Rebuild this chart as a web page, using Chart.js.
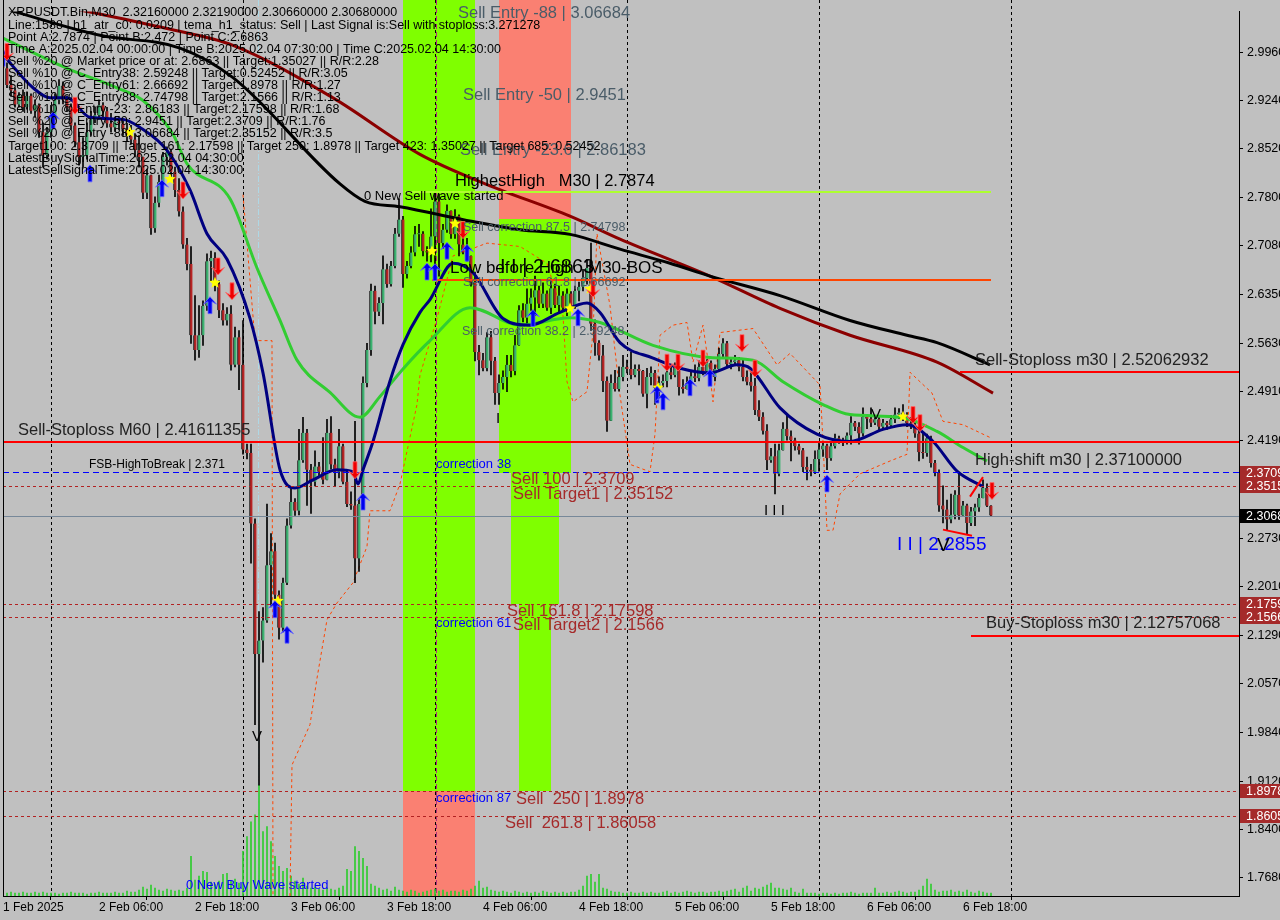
<!DOCTYPE html>
<html>
<head>
<meta charset="utf-8">
<title>XRPUSDT.Bin M30</title>
<script src="https://cdn.jsdelivr.net/npm/chart.js@4.4.1/dist/chart.umd.min.js"></script>
<style>
html,body{margin:0;padding:0;background:#c0c0c0;overflow:hidden;}
canvas{display:block;}
</style>
</head>
<body>
<canvas id="chart" width="1280" height="920"></canvas>
<script>
// ================= DATA =================
const firstOpen = 2.986;
const closes = [
2.972,2.947,2.939,2.918,2.931,2.914,2.931,2.909,2.917,2.877,2.843,2.877,
2.902,2.925,2.946,2.925,2.914,2.887,2.862,2.840,2.843,2.877,2.896,2.902,
2.917,2.908,2.890,2.884,2.893,2.890,2.881,2.872,2.866,2.850,2.840,2.787,
2.813,2.734,2.772,2.803,2.840,2.847,2.818,2.791,2.759,2.710,2.681,2.575,
2.553,2.575,2.619,2.685,2.690,2.651,2.612,2.597,2.607,2.531,2.572,2.531,
2.405,2.400,2.295,2.101,2.121,2.151,2.233,2.254,2.189,2.140,2.207,2.292,
2.327,2.314,2.389,2.430,2.375,2.357,2.380,2.372,2.360,2.430,2.383,2.372,
2.410,2.357,2.324,2.322,2.243,2.324,2.504,2.553,2.641,2.610,2.623,2.673,
2.651,2.678,2.726,2.747,2.666,2.678,2.698,2.725,2.726,2.700,2.698,2.722,
2.774,2.712,2.732,2.760,2.725,2.752,2.710,2.698,2.693,2.654,2.550,2.538,
2.526,2.572,2.537,2.489,2.504,2.513,2.531,2.522,2.560,2.612,2.601,2.622,
2.631,2.642,2.622,2.637,2.616,2.645,2.620,2.634,2.616,2.637,2.617,2.641,
2.647,2.660,2.675,2.592,2.564,2.545,2.507,2.448,2.504,2.495,2.513,2.528,
2.525,2.516,2.525,2.522,2.488,2.513,2.519,2.497,2.504,2.507,2.520,2.516,
2.528,2.498,2.495,2.504,2.514,2.511,2.528,2.522,2.534,2.513,2.525,2.547,
2.563,2.532,2.535,2.538,2.528,2.513,2.506,2.500,2.464,2.454,2.433,2.389,
2.395,2.369,2.404,2.436,2.425,2.419,2.410,2.404,2.379,2.375,2.372,2.391,
2.405,2.411,2.392,2.410,2.422,2.419,2.416,2.426,2.445,2.439,2.429,2.454,
2.451,2.445,2.450,2.439,2.445,2.441,2.450,2.457,2.460,2.453,2.444,2.442,
2.429,2.401,2.400,2.422,2.385,2.370,2.322,2.316,2.301,2.308,2.338,2.307,
2.322,2.296,2.313,2.319,2.333,2.348,2.3216,2.3068
];
const highs = [
3.002,2.980,2.961,2.943,2.936,2.940,2.937,2.934,2.925,2.919,2.891,2.884,
2.917,2.934,2.955,2.952,2.931,2.919,2.891,2.877,2.869,2.891,2.908,2.914,
2.925,2.921,2.914,2.905,2.899,2.899,2.896,2.890,2.887,2.875,2.872,2.833,
2.822,2.810,2.781,2.813,2.847,2.855,2.852,2.825,2.808,2.766,2.719,2.707,
2.634,2.619,2.626,2.696,2.700,2.698,2.656,2.622,2.616,2.619,2.587,2.582,
2.597,2.413,2.413,2.302,2.164,2.170,2.324,2.280,2.266,2.195,2.214,2.302,
2.348,2.332,2.435,2.453,2.435,2.383,2.403,2.386,2.423,2.450,2.454,2.391,
2.435,2.413,2.375,2.342,2.447,2.332,2.513,2.563,2.651,2.648,2.631,2.693,
2.681,2.685,2.734,2.778,2.752,2.685,2.707,2.737,2.740,2.729,2.707,2.763,
2.7874,2.785,2.740,2.769,2.760,2.762,2.754,2.725,2.719,2.693,2.669,2.560,
2.548,2.579,2.581,2.542,2.516,2.522,2.545,2.545,2.575,2.619,2.622,2.644,
2.644,2.663,2.648,2.653,2.641,2.659,2.651,2.648,2.640,2.644,2.640,2.648,
2.654,2.673,2.688,2.712,2.598,2.567,2.560,2.513,2.516,2.523,2.528,2.545,
2.538,2.550,2.531,2.531,2.523,2.526,2.528,2.523,2.513,2.516,2.535,2.531,
2.534,2.531,2.509,2.513,2.522,2.531,2.537,2.545,2.539,2.537,2.531,2.556,
2.570,2.566,2.542,2.545,2.542,2.538,2.522,2.519,2.511,2.478,2.460,2.442,
2.407,2.413,2.413,2.445,2.457,2.433,2.422,2.413,2.407,2.394,2.383,2.403,
2.417,2.417,2.413,2.416,2.428,2.425,2.422,2.430,2.454,2.447,2.445,2.467,
2.457,2.467,2.456,2.454,2.450,2.447,2.456,2.467,2.466,2.472,2.460,2.453,
2.448,2.435,2.430,2.428,2.425,2.389,2.375,2.351,2.330,2.339,2.344,2.369,
2.328,2.324,2.319,2.324,2.339,2.360,2.354,2.3219
];
const lows = [
2.969,2.943,2.931,2.914,2.914,2.908,2.911,2.905,2.899,2.869,2.825,2.837,
2.869,2.896,2.919,2.919,2.908,2.881,2.855,2.828,2.825,2.837,2.872,2.891,
2.896,2.899,2.884,2.877,2.878,2.881,2.872,2.863,2.859,2.840,2.825,2.778,
2.778,2.725,2.728,2.766,2.799,2.828,2.810,2.781,2.752,2.704,2.672,2.563,
2.538,2.542,2.560,2.612,2.656,2.641,2.601,2.590,2.590,2.523,2.528,2.494,
2.398,2.391,2.236,1.996,1.906,2.089,2.148,2.171,2.164,2.123,2.134,2.204,
2.288,2.307,2.308,2.386,2.322,2.310,2.351,2.366,2.354,2.372,2.376,2.351,
2.363,2.354,2.320,2.316,2.207,2.224,2.322,2.498,2.545,2.592,2.604,2.592,
2.646,2.648,2.675,2.722,2.646,2.660,2.675,2.693,2.707,2.693,2.685,2.684,
2.669,2.663,2.704,2.728,2.719,2.719,2.693,2.696,2.685,2.648,2.537,2.516,
2.522,2.522,2.516,2.472,2.472,2.495,2.491,2.513,2.516,2.560,2.595,2.590,
2.612,2.604,2.616,2.616,2.612,2.607,2.616,2.607,2.612,2.604,2.612,2.615,
2.626,2.641,2.651,2.582,2.545,2.538,2.491,2.432,2.472,2.492,2.492,2.507,
2.519,2.510,2.513,2.501,2.484,2.467,2.501,2.472,2.484,2.498,2.498,2.510,
2.513,2.486,2.489,2.495,2.486,2.506,2.507,2.516,2.519,2.501,2.507,2.522,
2.542,2.528,2.525,2.531,2.522,2.507,2.501,2.492,2.457,2.448,2.428,2.375,
2.386,2.339,2.366,2.404,2.419,2.388,2.404,2.398,2.372,2.360,2.366,2.369,
2.373,2.395,2.375,2.389,2.407,2.414,2.411,2.413,2.413,2.433,2.413,2.425,
2.436,2.439,2.442,2.433,2.436,2.435,2.438,2.445,2.451,2.448,2.439,2.436,
2.423,2.388,2.392,2.395,2.379,2.366,2.313,2.296,2.2855,2.296,2.302,2.301,
2.316,2.280,2.292,2.292,2.313,2.333,2.320,2.3066
];
// tick volume (millions), one per bar
const volumes = [
0.3,0.3,0.4,0.3,0.3,0.4,0.3,0.3,0.4,0.3,0.4,0.3,
0.3,0.3,0.2,0.3,0.3,0.4,0.3,0.3,0.3,0.2,0.3,0.3,
0.4,0.3,0.3,0.3,0.4,0.3,0.3,0.5,0.4,0.4,0.6,0.9,
0.7,1.1,0.8,0.6,0.5,0.7,0.6,0.5,0.6,0.5,0.8,4.0,
1.6,2.0,2.5,2.4,1.4,1.2,1.5,2.2,2.3,1.5,1.7,1.3,
4.5,6.0,7.5,8.2,11.2,6.5,7.0,5.5,4.0,3.0,2.5,2.8,
2.0,1.5,1.2,1.8,1.0,0.8,0.9,0.7,0.6,0.8,0.7,0.6,
0.8,1.0,2.7,2.5,5.0,4.5,3.8,3.0,1.2,1.0,0.8,0.6,
0.7,0.5,0.9,0.6,0.5,0.4,0.6,0.5,0.3,0.4,0.5,0.6,
0.7,0.5,0.6,0.4,0.5,0.5,0.4,0.6,0.5,0.7,1.0,1.5,
0.8,0.9,0.6,0.5,0.4,0.5,0.4,0.3,0.5,0.4,0.3,0.4,
0.3,0.4,0.3,0.5,0.4,0.3,0.4,0.3,0.4,0.3,0.4,0.4,
0.6,1.0,2.0,2.2,1.4,2.2,0.8,0.7,0.5,0.4,0.4,0.3,
0.3,0.4,0.3,0.3,0.4,0.3,0.4,0.3,0.3,0.4,0.5,0.3,
0.4,0.3,0.4,0.5,0.4,0.3,0.4,0.4,0.3,0.4,0.4,0.5,
0.4,0.5,0.6,0.7,0.4,0.8,1.0,0.5,0.8,0.7,0.9,1.1,
1.3,0.8,0.8,0.7,0.6,0.8,0.4,0.3,0.7,0.3,0.3,0.3,
0.2,0.3,0.3,0.2,0.3,0.2,0.3,0.3,0.4,0.3,0.2,0.3,
0.3,0.3,0.8,0.3,0.3,0.4,0.3,0.4,0.5,0.4,0.3,0.4,
0.4,0.6,1.0,1.7,1.2,0.6,0.4,0.5,0.5,0.6,0.4,0.5,
0.4,0.6,0.4,0.3,0.5,0.4,0.3,0.3
];

// time axis (bar index of each label)
const xTickIndex  = [0,24,48,72,96,120,144,168,192,216,240];
const xTickLabels = ['1 Feb 2025','2 Feb 06:00','2 Feb 18:00','3 Feb 06:00','3 Feb 18:00','4 Feb 06:00','4 Feb 18:00','5 Feb 06:00','5 Feb 18:00','6 Feb 06:00','6 Feb 18:00'];
const daySeparators = [12,60,108,156,204,252];
const yTickValues = [2.996,2.924,2.852,2.780,2.708,2.635,2.563,2.491,2.419,2.273,2.201,2.129,2.057,1.984,1.912,1.840,1.768];

// indicator lines, sampled [barIndex, price]
const navyLine = [[0,2.992],[7.5,2.943],[11.75,2.928],[16,2.928],[21.75,2.899],[30,2.896],[34.25,2.884],[41,2.850],[46.75,2.791],[51,2.726],[56,2.688],[61.75,2.600],[65,2.519],[69.25,2.375],[73,2.348],[77.5,2.360],[83.5,2.375],[87.5,2.372],[88.75,2.354],[90,2.375],[92.5,2.417],[96.75,2.507],[100,2.561],[104.25,2.609],[106.75,2.628],[112.5,2.682],[117.5,2.668],[125,2.600],[131.75,2.590],[139.25,2.609],[146,2.623],[149.25,2.609],[154.25,2.564],[162.5,2.541],[169.25,2.526],[176.75,2.519],[183.5,2.531],[186.75,2.526],[194.25,2.467],[203.5,2.428],[211.75,2.417],[220,2.435],[226,2.442],[232.5,2.417],[238.5,2.373],[245,2.350]];
const greenLine = [[0,3.017],[16,2.972],[28.5,2.943],[35,2.924],[42.5,2.874],[46,2.830],[56.75,2.778],[63.5,2.675],[69.25,2.597],[73.5,2.538],[81.75,2.490],[89.25,2.453],[94.25,2.484],[100,2.525],[106.75,2.567],[116.75,2.616],[129.25,2.590],[141.75,2.601],[149.25,2.594],[162.5,2.560],[176.75,2.542],[187.5,2.538],[195,2.506],[205,2.472],[211.75,2.457],[224.25,2.453],[233.5,2.432],[240,2.408],[246,2.388]];
const blackLine = [[1.75,3.058],[24.25,3.021],[44.25,3.002],[57.5,2.958],[84.25,2.800],[90.5,2.774],[99.25,2.766],[117.5,2.744],[129.25,2.732],[141.75,2.725],[154.25,2.703],[166.75,2.682],[176.75,2.663],[194.25,2.634],[211.75,2.597],[226,2.575],[233.5,2.564],[246.75,2.531]];
const darkRedLine = [[17.5,3.061],[41,3.031],[57.5,3.006],[82.5,2.928],[104.25,2.844],[121,2.799],[141.75,2.752],[154.25,2.718],[176.75,2.663],[194.25,2.615],[211.75,2.575],[233.5,2.535],[247.5,2.489]];
const orangeA = [[60,2.784],[63,2.567],[67.25,2.567],[67.5,1.741]];
const orangeB = [[71.75,1.741],[72.25,1.936],[76.75,1.996],[78.5,2.065],[81,2.152],[83.5,2.177],[87.5,2.207],[91,2.261],[91.75,2.314],[96.75,2.314],[99.25,2.354],[103.5,2.472],[104.25,2.516],[108.5,2.600],[112.5,2.693],[121,2.712],[129.25,2.707],[136,2.682],[140,2.604],[141,2.506],[142.5,2.476],[146,2.491],[147.5,2.579],[148.5,2.726],[151.75,2.619],[154.25,2.486],[156.75,2.383],[161.75,2.372],[163,2.428],[164.25,2.575],[167.5,2.590],[171,2.594],[172.5,2.535],[175,2.590],[176.75,2.516],[177.5,2.476],[179.25,2.579],[187.5,2.585],[193.5,2.531],[196.75,2.548],[204.25,2.501],[205,2.417],[206,2.285],[207.5,2.285],[209.25,2.339],[214.25,2.369],[221.75,2.388],[226,2.398],[226.75,2.520],[232.25,2.489],[235,2.447],[240,2.442],[246.75,2.423]];
const trendRed1 = [[235,2.286],[242.25,2.277]];
const trendRed2 = [[241.75,2.335],[245,2.364]];

// signal marks [barIndex, price]
const buyArrows = [[0,2.987],[12.5,2.894],[21.75,2.815],[39.75,2.793],[51.75,2.619],[68,2.167],[71,2.129],[90,2.327],[106,2.669],[108,2.668],[111,2.700],[116,2.697],[132.5,2.600],[143.75,2.601],[163.5,2.486],[165,2.476],[171.75,2.497],[176.75,2.511],[206,2.354]];
const sellArrows = [[1,2.997],[18,2.917],[45,2.791],[53.75,2.678],[57.25,2.641],[88,2.375],[115,2.732],[147.5,2.645],[166,2.535],[168.75,2.535],[175,2.541],[184.75,2.564],[188,2.526],[227.5,2.457],[229.25,2.445],[247.25,2.344]];
const starMarks = [[31.75,2.877],[41.75,2.807],[53,2.653],[68.75,2.180],[107.25,2.700],[113,2.741],[141.75,2.615],[146.75,2.644],[163.75,2.497],[225,2.454]];

// horizontal levels
const levelValues = [2.41611355, 2.371, 2.35152, 2.3068, 2.17598, 2.1566, 1.8978, 1.86058];
const shortLevelValues = [2.7874, 2.657, 2.52062932, 2.12757068];
const shortLevelFrom = [100.5, 107.25, 239.25, 242];
const shortLevelTo = [247, 247, 309, 309];
const tagValues = [2.3709, 2.35152, 2.3068, 2.17598, 2.1566, 1.8978, 1.86058];

// zones: [fromBar, toBar, topPrice, bottomPrice]
const zoneFrom   = [100, 100, 124, 124, 127, 129];
const zoneTo     = [118, 118, 142, 142, 139, 137];
const zoneTop    = [null, 1.8978, null, 2.74798, 2.3709, 2.17598];
const zoneBottom = [1.8978, null, 2.74798, 2.3709, 2.17598, 1.8978];

// ================= STYLE =================
const FONT = "'Liberation Sans', Arial, sans-serif";
const GREEN = '#7fff00', SALMON = '#fa8072';
const zoneColors = [GREEN, SALMON, SALMON, GREEN, GREEN, GREEN];
const levelStyles = [
  {c:'#ff0000', w:2, d:[]},
  {c:'#0000ff', w:1, d:[6,4]},
  {c:'#b22222', w:1, d:[3,3]},
  {c:'#778899', w:1, d:[]},
  {c:'#b22222', w:1, d:[3,3]},
  {c:'#b22222', w:1, d:[3,3]},
  {c:'#b22222', w:1, d:[3,3]},
  {c:'#b22222', w:1, d:[3,3]}
];
const shortLevelStyles = [{c:'#adff2f',w:2},{c:'#ff4500',w:2},{c:'#ff0000',w:2},{c:'#ff0000',w:2}];
const tagColors = ['#a52a2a','#a52a2a','#000000','#a52a2a','#a52a2a','#a52a2a','#a52a2a'];

const SLATE = '#4a5c68', BROWN = '#a52a2a', BLUE = '#0000ff';
const annotations = [
  {t:'Sell Entry -88 | 3.06684', i:113.75, p:3.053, s:16.5, c:SLATE},
  {t:'Sell Entry -50 | 2.9451', i:115, p:2.931, s:16.5, c:SLATE},
  {t:'Sell Entry -23.6 | 2.86183', i:114.25, p:2.850, s:16.5, c:SLATE},
  {t:'HighestHigh   M30 | 2.7874', i:113, p:2.804, s:16.5, c:'#000'},
  {t:'0 New Sell wave started', i:90.25, p:2.782, s:13, c:'#000'},
  {t:'Sell correction 87.5 | 2.74798', i:115, p:2.735, s:12.5, c:SLATE},
  {t:'Sell correction 61.8 | 2.66692', i:115, p:2.654, s:12.5, c:SLATE},
  {t:'Low before High', i:111.75, p:2.674, s:17, c:'#000'},
  {t:'M30-BOS', i:146.25, p:2.674, s:17, c:'#000'},
  {t:'I I | 2.6863', i:124.25, p:2.676, s:20, c:'#000'},
  {t:'Sell correction 38.2 | 2.59248', i:114.75, p:2.581, s:12.5, c:SLATE},
  {t:'I', i:123.25, p:2.450, s:15, c:'#000'},
  {t:'Sell-Stoploss M60 | 2.41611355', i:3.75, p:2.433, s:16.5, c:'#222'},
  {t:'FSB-HighToBreak | 2.371', i:21.5, p:2.382, s:12, c:'#000'},
  {t:'correction 38', i:108.25, p:2.383, s:13, c:BLUE},
  {t:'Sell 100 | 2.3709', i:127, p:2.360, s:16.5, c:BROWN},
  {t:'Sell Target1 | 2.35152', i:127.5, p:2.338, s:16.5, c:BROWN},
  {t:'Sell 161.8 | 2.17598', i:126, p:2.164, s:16.5, c:BROWN},
  {t:'Sell Target2 | 2.1566', i:127.5, p:2.143, s:16.5, c:BROWN},
  {t:'correction 61', i:108.25, p:2.146, s:13, c:BLUE},
  {t:'correction 87', i:108.25, p:1.887, s:13, c:BLUE},
  {t:'Sell  250 | 1.8978', i:128.25, p:1.885, s:16.5, c:BROWN},
  {t:'Sell  261.8 | 1.86058', i:125.5, p:1.849, s:16.5, c:BROWN},
  {t:'0 New Buy Wave started', i:45.75, p:1.757, s:13, c:BLUE},
  {t:'V', i:62.25, p:1.978, s:15, c:'#000'},
  {t:'I I I', i:190.25, p:2.314, s:15, c:'#000'},
  {t:'I I | 2.2855', i:223.5, p:2.264, s:19, c:BLUE},
  {t:'V', i:233.5, p:2.262, s:19, c:'#000'},
  {t:'V', i:217, p:2.457, s:15, c:'#000'},
  {t:'Sell-Stoploss m30 | 2.52062932', i:243, p:2.538, s:16.5, c:'#222'},
  {t:'High-shift m30 | 2.37100000', i:243, p:2.389, s:16.5, c:'#222'},
  {t:'Buy-Stoploss m30 | 2.12757068', i:245.75, p:2.146, s:16.5, c:'#222'}
];
const infoLines = [
  'XRPUSDT.Bin,M30  2.32160000 2.32190000 2.30660000 2.30680000',
  'Line:1588 | h1_atr_c0: 0.0209 | tema_h1_status: Sell | Last Signal is:Sell with stoploss:3.271278',
  'Point A:2.7874 | Point B:2.472 | Point C:2.6863',
  'Time A:2025.02.04 00:00:00 | Time B:2025.02.04 07:30:00 | Time C:2025.02.04 14:30:00',
  'Sell %20 @ Market price or at: 2.6863 || Target:1.35027 || R/R:2.28',
  'Sell %10 @ C_Entry38: 2.59248 || Target:0.52452 || R/R:3.05',
  'Sell %10 @ C_Entry61: 2.66692 || Target:1.8978 || R/R:1.27',
  'Sell %10 @ C_Entry88: 2.74798 || Target:2.1566 || R/R:1.13',
  'Sell %10 @ Entry -23: 2.86183 || Target:2.17598 || R/R:1.68',
  'Sell %20 @ Entry -50: 2.9451 || Target:2.3709 || R/R:1.76',
  'Sell %20 @ Entry -88: 3.06684 || Target:2.35152 || R/R:3.5',
  'Target100: 2.3709 || Target 161: 2.17598 || Target 250: 1.8978 || Target 423: 1.35027 || Target 685: 0.52452',
  'LatestBuySignalTime:2025.02.04 04:30:00',
  'LatestSellSignalTime:2025.02.04 14:30:00'
];

// ================= BUILD =================
const opens = closes.map((c, i) => i === 0 ? firstOpen : closes[i - 1]);
const wickData = closes.map((c, i) => ({x: i, y: [Math.min(lows[i], opens[i], c), Math.max(highs[i], opens[i], c)]}));
const bodyData = closes.map((c, i) => ({x: i, y: [opens[i], c]}));
const bodyColors = closes.map((c, i) => c >= opens[i] ? '#3cb371' : '#b82424');
const volData = volumes.map((v, i) => ({x: i, y: v}));
const pts = arr => arr.map(a => ({x: a[0], y: a[1]}));

function hline(ctx, x0, x1, y) { ctx.beginPath(); ctx.moveTo(x0, y); ctx.lineTo(x1, y); ctx.stroke(); }
function vline(ctx, x, y0, y1) { ctx.beginPath(); ctx.moveTo(x, y0); ctx.lineTo(x, y1); ctx.stroke(); }
function arrow(ctx, x, y, up, color) {
  ctx.save();
  ctx.translate(x, y);
  ctx.scale(1, up ? 1 : -1);
  ctx.beginPath();
  ctx.moveTo(0, -9); ctx.lineTo(6.5, -1.5); ctx.lineTo(2, -4); ctx.lineTo(2, 8);
  ctx.lineTo(-2, 8); ctx.lineTo(-2, -4); ctx.lineTo(-6.5, -1.5); ctx.closePath();
  ctx.fillStyle = color; ctx.fill();
  ctx.lineWidth = 0.8; ctx.strokeStyle = up ? '#6a6aff' : '#ff6a6a'; ctx.stroke();
  ctx.restore();
}
function star(ctx, x, y, r) {
  ctx.beginPath();
  for (let k = 0; k < 10; k++) {
    const rr = k % 2 ? r * 0.45 : r;
    const ang = -Math.PI / 2 + k * Math.PI / 5;
    const px = x + rr * Math.cos(ang), py = y + rr * Math.sin(ang);
    if (k === 0) ctx.moveTo(px, py); else ctx.lineTo(px, py);
  }
  ctx.closePath();
  ctx.fillStyle = '#ffff00'; ctx.fill();
}

const mt4Plugin = {
  id: 'mt4',
  beforeDraw(chart) {
    const ctx = chart.ctx;
    ctx.save(); ctx.fillStyle = '#c0c0c0'; ctx.fillRect(0, 0, chart.width, chart.height); ctx.restore();
  },
  beforeDatasetsDraw(chart) {
    const {ctx, chartArea: a, scales: {x, y}} = chart;
    ctx.save();
    ctx.beginPath(); ctx.rect(a.left, 0, a.right - a.left, a.bottom); ctx.clip();
    for (let k = 0; k < zoneFrom.length; k++) {
      const x0 = x.getPixelForValue(zoneFrom[k]), x1 = x.getPixelForValue(zoneTo[k]);
      const y0 = zoneTop[k] === null ? 0 : y.getPixelForValue(zoneTop[k]);
      const y1 = zoneBottom[k] === null ? a.bottom : y.getPixelForValue(zoneBottom[k]);
      ctx.fillStyle = zoneColors[k];
      ctx.fillRect(Math.round(x0), Math.round(y0), Math.round(x1 - x0), Math.round(y1 - y0));
    }
    ctx.lineWidth = 1; ctx.strokeStyle = '#000'; ctx.setLineDash([3, 3]);
    daySeparators.forEach(d => { const xx = Math.round(x.getPixelForValue(d)) + 0.5; vline(ctx, xx, 0, a.bottom); });
    ctx.strokeStyle = '#add8e6'; ctx.setLineDash([6, 2, 1, 2]);
    { const xx = Math.round(x.getPixelForValue(63.75)) + 0.5; vline(ctx, xx, 0, a.bottom); }
    ctx.strokeStyle = '#b0307a'; ctx.setLineDash([5, 3]);
    { const xx = Math.round(x.getPixelForValue(108.25)) + 0.5; vline(ctx, xx, 0, a.bottom); }
    ctx.restore();
  },
  afterDatasetsDraw(chart) {
    const {ctx, chartArea: a, scales: {x, y}} = chart;
    ctx.save();
    ctx.beginPath(); ctx.rect(a.left, 0, a.right - a.left, a.bottom); ctx.clip();
    levelValues.forEach((v, k) => {
      const st = levelStyles[k];
      ctx.strokeStyle = st.c; ctx.lineWidth = st.w; ctx.setLineDash(st.d);
      const yy = Math.round(y.getPixelForValue(v)) + (st.w === 1 ? 0.5 : 0);
      hline(ctx, a.left, a.right, yy);
    });
    ctx.setLineDash([]);
    shortLevelValues.forEach((v, k) => {
      const st = shortLevelStyles[k];
      ctx.strokeStyle = st.c; ctx.lineWidth = st.w;
      const yy = Math.round(y.getPixelForValue(v));
      hline(ctx, x.getPixelForValue(shortLevelFrom[k]), Math.min(a.right, x.getPixelForValue(shortLevelTo[k])), yy);
    });
    starMarks.forEach(p => star(ctx, x.getPixelForValue(p[0]), y.getPixelForValue(p[1]), 6));
    buyArrows.forEach(p => arrow(ctx, x.getPixelForValue(p[0]), y.getPixelForValue(p[1]), true, '#0000ee'));
    sellArrows.forEach(p => arrow(ctx, x.getPixelForValue(p[0]), y.getPixelForValue(p[1]), false, '#ee0000'));
    ctx.textAlign = 'left'; ctx.textBaseline = 'middle';
    annotations.forEach(an => {
      ctx.font = an.s + 'px ' + FONT;
      ctx.fillStyle = an.c;
      ctx.fillText(an.t, x.getPixelForValue(an.i), y.getPixelForValue(an.p));
    });
    ctx.font = '12.5px ' + FONT; ctx.fillStyle = '#000';
    infoLines.forEach((t, k) => ctx.fillText(t, 8, 13 + k * 12.1));
    ctx.restore();
    ctx.save(); ctx.strokeStyle = '#000'; ctx.lineWidth = 1;
    vline(ctx, a.left + 0.5, 0, a.bottom); ctx.restore();
  },
  afterDraw(chart) {
    const {ctx, chartArea: a, scales: {y}} = chart;
    ctx.save();
    ctx.font = '12.5px ' + FONT; ctx.textBaseline = 'middle'; ctx.textAlign = 'left';
    tagValues.forEach((v, k) => {
      const yy = Math.round(y.getPixelForValue(v));
      ctx.fillStyle = tagColors[k];
      ctx.fillRect(a.right + 1, yy - 7, 45, 14);
      ctx.fillStyle = '#fff';
      ctx.fillText(v.toFixed(5), a.right + 7, yy + 0.5);
    });
    ctx.restore();
  }
};

Chart.defaults.font.family = FONT;
new Chart(document.getElementById('chart'), {
  type: 'bar',
  data: {
    datasets: [
      {type: 'bar', data: volData, yAxisID: 'yv', backgroundColor: '#2ecc2e', barThickness: 1, grouped: false, order: 20},
      {type: 'line', data: pts(orangeA), borderColor: '#ff4500', borderWidth: 1, borderDash: [3, 3], pointRadius: 0, tension: 0, order: 15},
      {type: 'line', data: pts(orangeB), borderColor: '#ff4500', borderWidth: 1, borderDash: [3, 3], pointRadius: 0, tension: 0, order: 15},
      {type: 'bar', data: wickData, backgroundColor: '#000', barThickness: 1, grouped: false, order: 12},
      {type: 'bar', data: bodyData, backgroundColor: bodyColors, borderColor: '#111', borderWidth: {left: 1, right: 0, top: 0, bottom: 0}, barThickness: 3, minBarLength: 1, grouped: false, order: 11},
      {type: 'line', data: pts(darkRedLine), borderColor: '#8b0000', borderWidth: 3, pointRadius: 0, cubicInterpolationMode: 'monotone', order: 6},
      {type: 'line', data: pts(blackLine), borderColor: '#000000', borderWidth: 3, pointRadius: 0, cubicInterpolationMode: 'monotone', order: 5},
      {type: 'line', data: pts(greenLine), borderColor: '#32cd32', borderWidth: 3, pointRadius: 0, cubicInterpolationMode: 'monotone', order: 4},
      {type: 'line', data: pts(navyLine), borderColor: '#000080', borderWidth: 3, pointRadius: 0, cubicInterpolationMode: 'monotone', order: 3},
      {type: 'line', data: pts(trendRed1), borderColor: '#ff0000', borderWidth: 2, pointRadius: 0, order: 2},
      {type: 'line', data: pts(trendRed2), borderColor: '#ff0000', borderWidth: 2, pointRadius: 0, order: 2}
    ]
  },
  options: {
    responsive: false,
    animation: false,
    devicePixelRatio: 1,
    layout: {padding: {left: 3, top: 3, right: 0, bottom: 0}},
    plugins: {legend: {display: false}, tooltip: {enabled: false}},
    scales: {
      x: {
        type: 'linear', min: 0, max: 309, offset: false,
        afterBuildTicks: s => { s.ticks = xTickIndex.map(v => ({value: v})); },
        afterFit: s => { s.height = 24; },
        grid: {drawOnChartArea: false, drawTicks: true, tickLength: 4, color: '#000'},
        border: {display: true, color: '#000', width: 1},
        ticks: {align: 'start', autoSkip: false, maxRotation: 0, minRotation: 0, padding: 0, color: '#000',
                font: {size: 12, family: FONT},
                callback: v => xTickLabels[xTickIndex.indexOf(v)]}
      },
      y: {
        position: 'right', min: 1.7412, max: 3.0564,
        afterBuildTicks: s => { s.ticks = yTickValues.map(v => ({value: v})); },
        afterFit: s => { s.width = 41; },
        grid: {drawOnChartArea: false, drawTicks: true, tickLength: 4, color: '#000'},
        border: {display: true, color: '#000', width: 1},
        ticks: {padding: 4, color: '#000', font: {size: 12.5, family: FONT}, callback: v => Number(v).toFixed(4)}
      },
      yv: {display: false, min: 0, max: 89.3}
    }
  },
  plugins: [mt4Plugin]
});
</script>
</body>
</html>
